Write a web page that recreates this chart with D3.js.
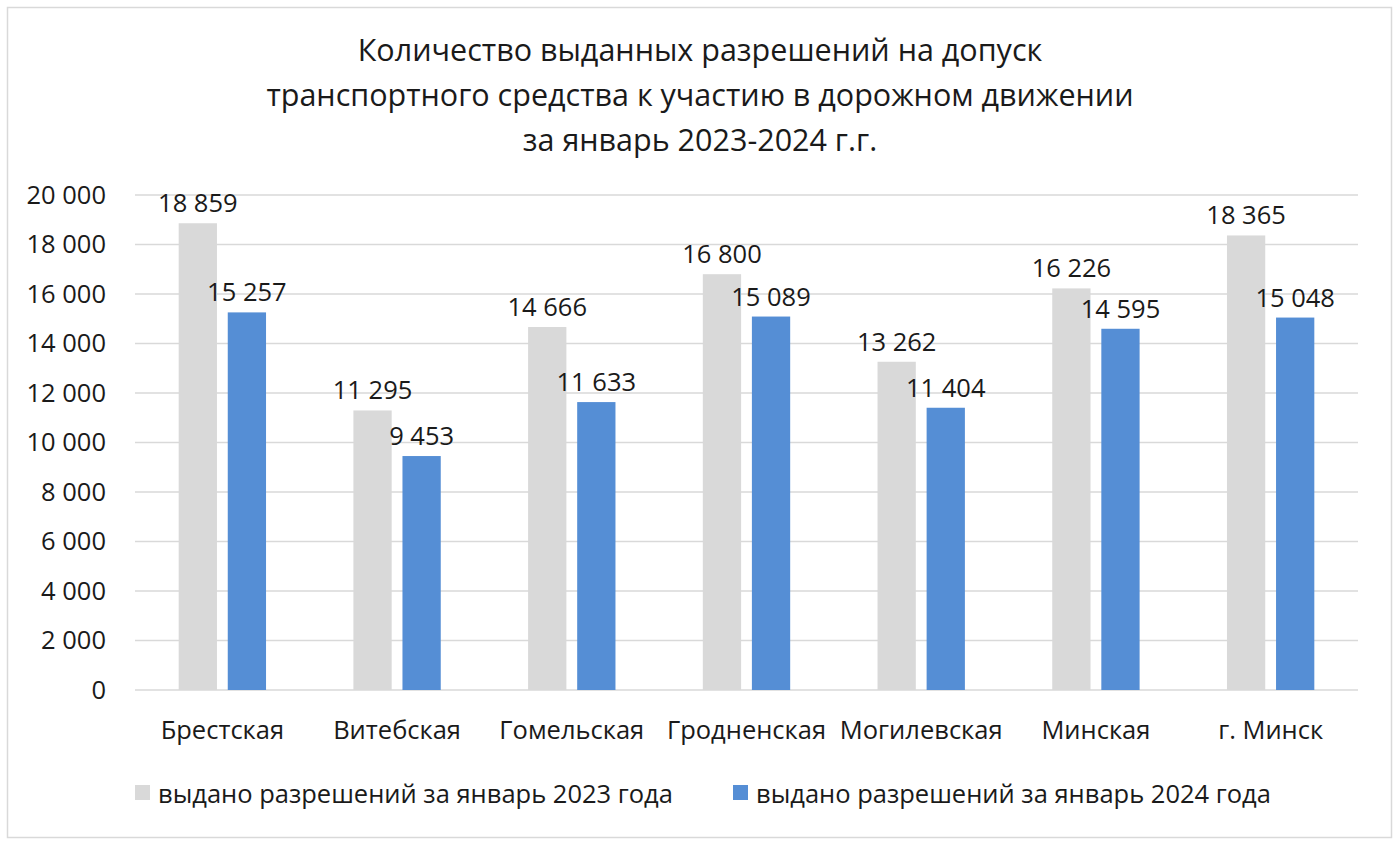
<!DOCTYPE html>
<html>
<head>
<meta charset="utf-8">
<script src="https://cdn.jsdelivr.net/npm/d3@7"></script>
<style>
  body { margin: 0; background: #fff; }
  text { font-family: "Open Sans", sans-serif; fill: #1a1a1a; }
</style>
</head>
<body>
<div id="chart"></div>
<script>
// data
const regions = ["Брестская", "Витебская", "Гомельская", "Гродненская", "Могилевская", "Минская", "г. Минск"];
const values2023 = [18859, 11295, 14666, 16800, 13262, 16226, 18365];
const values2024 = [15257, 9453, 11633, 15089, 11404, 14595, 15048];
const seriesNames = ["выдано разрешений за январь 2023 года", "выдано разрешений за январь 2024 года"];
const yTicks = [0, 2000, 4000, 6000, 8000, 10000, 12000, 14000, 16000, 18000, 20000];
const titleLines = [
  "Количество выданных разрешений на допуск",
  "транспортного средства к участию в дорожном движении",
  "за январь 2023-2024 г.г."
];

const width = 1400, height = 846;
const colors = ["#d9d9d9", "#558ed5"];
const fmt = v => d3.format(",")(v).replace(/,/g, " ");

const svg = d3.select("#chart").append("svg")
  .attr("width", width)
  .attr("height", height);

// outer frame
svg.append("rect")
  .attr("x", 7.5).attr("y", 7.5)
  .attr("width", 1384).attr("height", 830)
  .attr("fill", "#fff")
  .attr("stroke", "#d9d9d9")
  .attr("stroke-width", 1.5);

// title
svg.append("g").selectAll("text")
  .data(titleLines)
  .enter()
  .append("text")
  .attr("x", 700)
  .attr("y", (d, i) => 61 + i * 45)
  .attr("text-anchor", "middle")
  .style("font-size", "30.5px")
  .text(d => d);

const plotLeft = 135, plotRight = 1358, plotTop = 195, plotBottom = 690;

const y = d3.scaleLinear().domain([0, 20000]).range([plotBottom, plotTop]);

const x0 = d3.scaleBand()
  .domain(regions)
  .range([plotLeft, plotRight])
  .paddingInner(0.5)
  .paddingOuter(0.25);

const x1 = d3.scaleBand()
  .domain([0, 1])
  .range([0, x0.bandwidth()])
  .paddingInner(0.22);

// gridlines
svg.append("g").selectAll("line")
  .data(yTicks)
  .enter()
  .append("line")
  .attr("x1", plotLeft)
  .attr("x2", plotRight)
  .attr("y1", d => y(d))
  .attr("y2", d => y(d))
  .attr("stroke", "#d9d9d9")
  .attr("stroke-width", 1.5);

// y axis labels
svg.append("g").selectAll("text")
  .data(yTicks)
  .enter()
  .append("text")
  .attr("x", 106)
  .attr("y", d => y(d))
  .attr("dy", "0.35em")
  .attr("text-anchor", "end")
  .style("font-size", "25.5px")
  .text(d => fmt(d));

const rows = regions.map((r, i) => ({ region: r, vals: [values2023[i], values2024[i]] }));

const groups = svg.append("g").selectAll("g")
  .data(rows)
  .enter()
  .append("g")
  .attr("transform", d => "translate(" + x0(d.region) + ",0)");

groups.selectAll("rect")
  .data(d => d.vals.map((v, k) => ({ v: v, k: k })))
  .enter()
  .append("rect")
  .attr("x", d => x1(d.k))
  .attr("y", d => y(d.v))
  .attr("width", x1.bandwidth())
  .attr("height", d => plotBottom - y(d.v))
  .attr("fill", d => colors[d.k]);

groups.selectAll("text.val")
  .data(d => d.vals.map((v, k) => ({ v: v, k: k })))
  .enter()
  .append("text")
  .attr("class", "val")
  .attr("x", d => x1(d.k) + x1.bandwidth() / 2)
  .attr("y", d => y(d.v) - 11)
  .attr("text-anchor", "middle")
  .style("font-size", "25.5px")
  .text(d => fmt(d.v));

// category labels
svg.append("g").selectAll("text")
  .data(regions)
  .enter()
  .append("text")
  .attr("x", d => x0(d) + x0.bandwidth() / 2)
  .attr("y", 739)
  .attr("text-anchor", "middle")
  .style("font-size", "25.5px")
  .text(d => d);

// legend
const legendX = [135, 733];
const legend = svg.append("g").selectAll("g")
  .data(seriesNames)
  .enter()
  .append("g")
  .attr("transform", (d, i) => "translate(" + legendX[i] + ",785)");

legend.append("rect")
  .attr("width", 15)
  .attr("height", 15)
  .attr("fill", (d, i) => colors[i]);

legend.append("text")
  .attr("x", 23)
  .attr("y", 9)
  .attr("dy", "0.35em")
  .style("font-size", "25.5px")
  .text(d => d);
</script>
</body>
</html>
